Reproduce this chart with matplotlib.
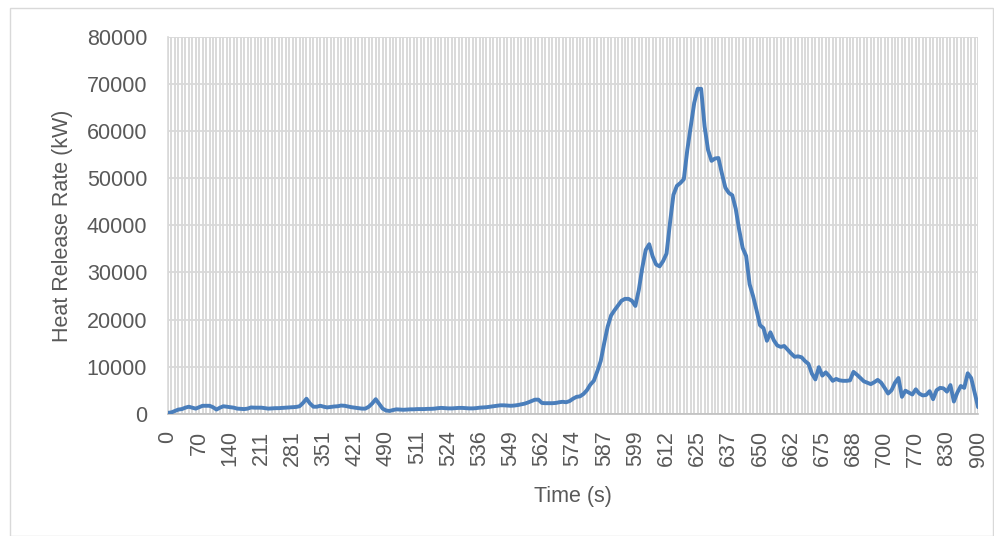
import matplotlib
matplotlib.use("Agg")
import matplotlib.pyplot as plt
from matplotlib.patches import Rectangle
import numpy as np

# Category tick labels (Time, s) shown every 9 categories
tick_labels = ["0", "70", "140", "211", "281", "351", "421", "490", "511", "524",
               "536", "549", "562", "574", "587", "599", "612", "625", "637", "650",
               "662", "675", "688", "700", "770", "830", "900"]

# Heat release rate (kW), one value per category
hrr = [
    200, 300, 600, 900, 1000, 1300, 1500, 1300, 1100, 1400,
    1700, 1700, 1700, 1400, 900, 1300, 1600, 1500, 1400, 1300,
    1100, 1050, 1000, 1100, 1350, 1300, 1300, 1300, 1200, 1100,
    1150, 1200, 1200, 1250, 1300, 1350, 1400, 1450, 1600, 2300,
    3200, 2200, 1500, 1500, 1700, 1500, 1350, 1450, 1550, 1600,
    1750, 1700, 1550, 1400, 1300, 1200, 1100, 1100, 1500, 2200,
    3100, 2100, 1100, 700, 600, 800, 950, 900, 850, 900,
    950, 950, 1000, 1000, 1000, 1050, 1050, 1100, 1200, 1250,
    1200, 1150, 1150, 1200, 1250, 1250, 1200, 1150, 1150, 1200,
    1300, 1350, 1400, 1500, 1600, 1700, 1800, 1800, 1750, 1700,
    1750, 1850, 2000, 2150, 2400, 2700, 3000, 3000, 2300, 2250,
    2250, 2250, 2300, 2450, 2550, 2450, 2700, 3200, 3600, 3700,
    4200, 5000, 6200, 7000, 9000, 11200, 15000, 18500, 20900, 22000,
    23000, 24000, 24400, 24400, 24000, 22900, 26300, 31000, 34800, 36000,
    33400, 31700, 31300, 32400, 34000, 40500, 46500, 48400, 49000, 49800,
    56000, 61000, 66000, 69000, 69000, 61000, 56000, 53700, 54200, 54300,
    51000, 48000, 46900, 46400, 43500, 39000, 35200, 33500, 27500, 25000,
    22000, 18800, 18200, 15500, 17300, 15600, 14500, 14200, 14400, 13600,
    12800, 12100, 12200, 12000, 11200, 10600, 8500, 7300, 9900, 8100,
    8800, 8000, 7000, 7400, 7100, 7000, 7000, 7100, 8900, 8300,
    7600, 6900, 6600, 6300, 6700, 7200, 6600, 5500, 4300, 5000,
    6600, 7600, 3600, 4900, 4500, 4100, 5200, 4300, 3900, 4000,
    4800, 3100, 5000, 5500, 5400, 4700, 6100, 2600, 4500, 5900,
    5500, 8600, 7600, 4500, 1400,
]

label_step = 9
x_title = "Time (s)"
y_title = "Heat Release Rate (kW)"

plt.rcParams['font.family'] = ['Liberation Sans', 'DejaVu Sans']
txt_color = "#595959"
grid_color = "#d9d9d9"

fig = plt.figure(figsize=(9.94, 5.36), dpi=100)
ax = fig.add_axes([0.169, 0.228, 0.815, 0.703])

x = np.arange(len(hrr))
ax.plot(x, hrr, color="#4a7ebb", linewidth=2.8, solid_joinstyle='round',
        solid_capstyle='round', zorder=3)

ax.set_xlim(0, len(hrr) - 1)
ax.set_ylim(0, 80000)
ax.set_yticks(np.arange(0, 80001, 10000))
ax.set_yticklabels([str(v) for v in range(0, 80001, 10000)])

ax.set_xticks(x[::label_step])
ax.set_xticklabels(tick_labels, rotation=90)
ax.set_xticks(x, minor=True)

ax.grid(True, which='major', axis='y', color=grid_color, linewidth=1.3)
ax.grid(True, which='both', axis='x', color="#d3d3d3", linewidth=1.2)
ax.set_axisbelow(True)

for s in ['top', 'right']:
    ax.spines[s].set_visible(False)
ax.spines['left'].set_color(grid_color)
ax.spines['bottom'].set_color("#bfbfbf")
ax.spines['left'].set_linewidth(1.2)
ax.spines['bottom'].set_linewidth(1.2)

ax.tick_params(axis='both', which='both', length=0, colors=txt_color, labelsize=15.5)
ax.tick_params(axis='y', pad=15)
ax.tick_params(axis='x', pad=12)

ax.set_xlabel(x_title, fontsize=15.5, color=txt_color, labelpad=14)
ax.set_ylabel(y_title, fontsize=15.5, color=txt_color, labelpad=10)

fig.patches.append(Rectangle((10 / 994, 0.0), (993 - 10) / 994, (536 - 8) / 536,
                             transform=fig.transFigure, fill=False,
                             edgecolor="#d9d9d9", linewidth=1.0))

fig.savefig("out.png", dpi=100)
